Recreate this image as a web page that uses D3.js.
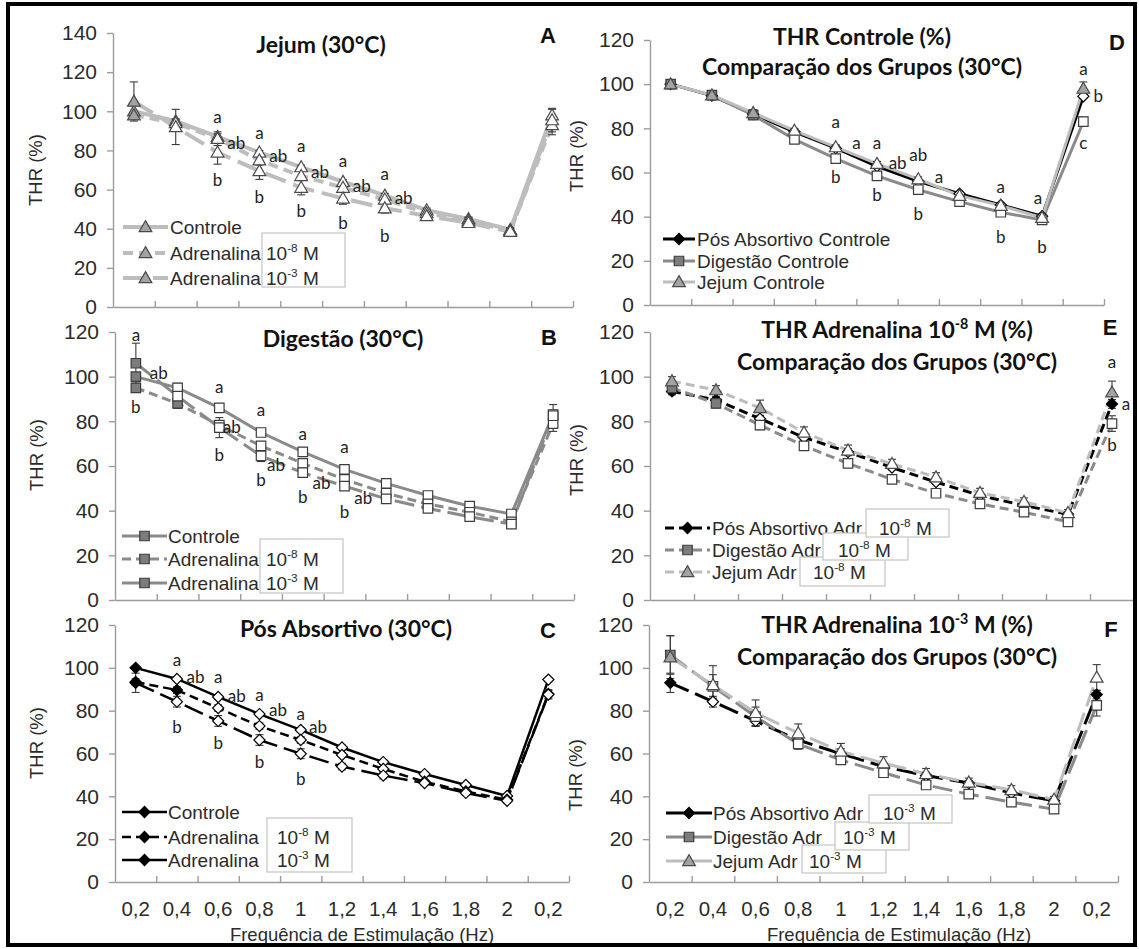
<!DOCTYPE html>
<html>
<head>
<meta charset="utf-8">
<script src="https://cdn.jsdelivr.net/npm/d3@7"></script>
<style>
  body { margin: 0; background: #fff; }
  svg { display: block; }
</style>
</head>
<body>
<svg id="fig" width="1139" height="949"></svg>
<script>
// Stimulation frequencies (Hz); the last category is the return to 0,2 Hz
const categories = ["0,2", "0,4", "0,6", "0,8", "1", "1,2", "1,4", "1,6", "1,8", "2", "0,2"];
const yTicks140 = [0, 20, 40, 60, 80, 100, 120, 140];
const yTicks120 = [0, 20, 40, 60, 80, 100, 120];

// THR (%) means, fasting group
const jejumControle = [100, 95, 87, 79, 71.5, 64, 57, 49.5, 45, 39.5, 98];
const jejumAdr8     = [98, 94, 86, 75, 67, 61, 55, 48, 44, 39, 93];
const jejumAdr3     = [105, 92, 79, 69.5, 61, 55.5, 50.5, 46.5, 43, 38.5, 95.5];
// THR (%) means, digestion group
const digestaoControle = [100, 95, 86, 75, 66.3, 58.5, 52.2, 46.8, 42, 38.5, 83];
const digestaoAdr8     = [95, 88, 78.3, 69, 61.2, 54, 47.8, 43, 39.3, 35, 79];
const digestaoAdr3     = [106, 91.3, 77.2, 64.5, 57, 51, 45.3, 41, 37.3, 34, 82.5];
// THR (%) means, post-absorptive group
const posControle = [100, 94.8, 86.4, 78.4, 71, 62.8, 56, 50.4, 45.3, 40.2, 94.5];
const posAdr8     = [93.4, 89.6, 81.2, 72.8, 66.3, 59.3, 52.8, 46.8, 42.3, 38.4, 87.8];
const posAdr3     = [93, 84.2, 75.2, 66.3, 59.9, 53.9, 49.7, 46.2, 41.6, 37.9, 87.5];

// Standard errors
const jejumControleErr    = [0, 1, 1.5, 1, 1, 1, 1, 1, 1, 1, 3];
const jejumAdr8Err        = [2, 2, 3.5, 2.5, 2.4, 2, 2, 2, 1.7, 1.5, 5];
const jejumAdr3Err        = [10, 9, 6, 4.3, 3.7, 3, 2.5, 2, 2, 1.5, 6];
const digestaoControleErr = [1, 2, 1.5, 1.5, 1.5, 1, 1, 1, 1, 1, 2];
const digestaoAdr8Err     = [2, 2, 2, 1.5, 1.5, 1, 1, 1, 1, 1, 3.5];
const digestaoAdr3Err     = [9, 5.5, 4.5, 2.5, 2, 1.5, 1.5, 1, 1, 1, 5];
const posControleErr      = [0.5, 1, 1, 1, 1, 1, 1, 1, 1, 1, 1];
const posAdr8Err          = [1.5, 1.5, 1.5, 1.5, 1.5, 1, 1, 1, 1, 1, 2];
const posAdr3Err          = [4.5, 2.5, 2.5, 2.5, 2.3, 1.5, 1.5, 1, 1, 1, 2];

// Significance letters: [category position, THR value, letter]
const notesA = [[2, 97, "a"], [2.45, 84, "ab"], [2, 65, "b"], [3, 89, "a"], [3.45, 77, "ab"], [3, 56, "b"],
                [4, 82, "a"], [4.45, 69, "ab"], [4, 49, "b"], [5, 74.6, "a"], [5.45, 62, "ab"], [5, 43, "b"],
                [6, 68, "a"], [6.45, 55.7, "ab"], [6, 36, "b"]];
const notesB = [[0, 118.7, "a"], [0.55, 101.6, "ab"], [0, 86.4, "b"], [2, 95.4, "a"], [2.3, 77.5, "ab"], [2, 65, "b"],
                [3, 85, "a"], [3.36, 60.4, "ab"], [3, 53.7, "b"], [4, 74.4, "a"], [4.45, 52.4, "ab"], [4, 46, "b"],
                [5, 68.5, "a"], [5.45, 45.7, "ab"], [5, 39.4, "b"]];
const notesC = [[1, 103.6, "a"], [1.45, 95.7, "ab"], [1, 72.4, "b"], [2, 95.7, "a"], [2.45, 86.8, "ab"], [2, 64.9, "b"],
                [3, 87.3, "a"], [3.45, 80.3, "ab"], [3, 56, "b"], [4, 78.4, "a"], [4.42, 72.4, "ab"], [4, 48, "b"]];
const notesD = [[4, 82.9, "a"], [4.5, 73.4, "a"], [4, 58, "b"], [5, 73.4, "a"], [5.5, 64.3, "ab"], [5, 49.8, "b"],
                [6, 67.9, "ab"], [6.5, 58, "a"], [6, 41.2, "b"], [8, 53.4, "a"], [8, 30.8, "b"],
                [8.9, 48.5, "a"], [9, 26.3, "b"], [10, 106.9, "a"], [10.36, 94.7, "b"], [10, 73.4, "c"]];
const notesE = [[10, 106.6, "a"], [10.32, 87.8, "a"], [10, 69.4, "b"]];
const notesF = [];

const conc8 = [{ t: "10" }, { t: "-8", sup: true }, { t: " M" }];
const conc3 = [{ t: "10" }, { t: "-3", sup: true }, { t: " M" }];

const FONT = "'Liberation Sans', Arial, sans-serif";
const TFONT = "Lato, 'Open Sans', sans-serif";

const groupStyle = {
  jejum:    { color: "#bdbdbd", symbol: "triangle", fill: "#a3a3a3", stroke: "#4a4a4a" },
  digestao: { color: "#8a8a8a", symbol: "square",   fill: "#7c7c7c", stroke: "#3c3c3c" },
  pos:      { color: "#000000", symbol: "diamond",  fill: "#000000", stroke: "#000000" }
};

const panels = [
  {
    letter: "A", x0: 113, x1: 573, y0: 307, y1: 33, yMax: 140, ticks: yTicks140,
    title: [[{ t: "Jejum (30°C)" }]], titleX: 321, titleY: [53], letterX: 548, letterY: 43,
    yTitle: [36, 170], lw: 4, dash: { adr8: "10,6", adr3: "22,8" },
    series: [
      { v: jejumControle, e: jejumControleErr, g: "jejum", d: "ctrl", filled: [0, 1, 2] },
      { v: jejumAdr8, e: jejumAdr8Err, g: "jejum", d: "adr8", filled: [0] },
      { v: jejumAdr3, e: jejumAdr3Err, g: "jejum", d: "adr3", filled: [0] }
    ],
    legend: { labels: ["Controle", "Adrenalina", "Adrenalina"], rows: [227, 253, 278], lx0: 123, lx1: 168, tx: 170,
              boxes: [{ x: 262, y: 233, w: 83, h: 54, tx: 266, rows: [1, 2] }] },
    notes: notesA
  },
  {
    letter: "B", x0: 115, x1: 574, y0: 600, y1: 332, yMax: 120, ticks: yTicks120,
    title: [[{ t: "Digestão (30°C)" }]], titleX: 343, titleY: [347], letterX: 549, letterY: 345,
    yTitle: [37, 455], lw: 3, dash: { adr8: "9,5", adr3: "20,7" },
    series: [
      { v: digestaoControle, e: digestaoControleErr, g: "digestao", d: "ctrl", filled: [0] },
      { v: digestaoAdr8, e: digestaoAdr8Err, g: "digestao", d: "adr8", filled: [0, 1] },
      { v: digestaoAdr3, e: digestaoAdr3Err, g: "digestao", d: "adr3", filled: [0] }
    ],
    legend: { labels: ["Controle", "Adrenalina", "Adrenalina"], rows: [536, 559, 583], lx0: 122, lx1: 167, tx: 168,
              boxes: [{ x: 260, y: 539, w: 83, h: 54, tx: 266, rows: [1, 2] }] },
    notes: notesB
  },
  {
    letter: "C", x0: 115, x1: 569, y0: 882, y1: 625, yMax: 120, ticks: yTicks120,
    title: [[{ t: "Pós Absortivo (30°C)" }]], titleX: 346, titleY: [637], letterX: 548, letterY: 638,
    yTitle: [37, 743], lw: 2.5, dash: { adr8: "9,5", adr3: "20,7" }, xLabels: true, xTitle: [362, 941],
    series: [
      { v: posControle, e: posControleErr, g: "pos", d: "ctrl", filled: [0] },
      { v: posAdr8, e: posAdr8Err, g: "pos", d: "adr8", filled: [0, 1] },
      { v: posAdr3, e: posAdr3Err, g: "pos", d: "adr3", filled: [0] }
    ],
    legend: { labels: ["Controle", "Adrenalina", "Adrenalina"], rows: [812, 837, 860], lx0: 122, lx1: 167, tx: 168,
              boxes: [{ x: 267, y: 818, w: 85, h: 54, tx: 277, rows: [1, 2] }] },
    notes: notesC
  },
  {
    letter: "D", x0: 650, x1: 1104, y0: 305, y1: 40, yMax: 120, ticks: yTicks120,
    title: [[{ t: "THR Controle (%)" }], [{ t: "Comparação dos Grupos (30°C)" }]], titleX: 862, titleY: [45, 75],
    letterX: 1117, letterY: 50, yTitle: [577, 156], lw: 3, dash: {},
    series: [
      { v: posControle, e: posControleErr, g: "pos", d: "ctrl", filled: [0, 1, 2] },
      { v: digestaoControle, e: digestaoControleErr, g: "digestao", d: "ctrl", filled: [0, 1, 2] },
      { v: jejumControle, e: jejumControleErr, g: "jejum", d: "ctrl", filled: [0, 1, 2, 10] }
    ],
    legend: { labels: ["Pós Absortivo Controle", "Digestão Controle", "Jejum Controle"], rows: [239, 261, 282],
              lx0: 663, lx1: 695, tx: 697, boxes: [] },
    notes: notesD
  },
  {
    letter: "E", x0: 650, x1: 1134, y0: 600, y1: 332, yMax: 120, ticks: yTicks120,
    title: [[{ t: "THR Adrenalina 10" }, { t: "-8", sup: true }, { t: " M (%)" }], [{ t: "Comparação dos Grupos (30°C)" }]],
    titleX: 897, titleY: [338, 370], letterX: 1110, letterY: 335, yTitle: [577, 460], lw: 3,
    dash: { adr8: "9,5", adr3: "20,7" },
    series: [
      { v: posAdr8, e: posAdr8Err, g: "pos", d: "adr8", filled: [0, 1, 10] },
      { v: digestaoAdr8, e: digestaoAdr8Err, g: "digestao", d: "adr8", filled: [0, 1] },
      { v: jejumAdr8, e: jejumAdr8Err, g: "jejum", d: "adr8", filled: [0, 1, 2, 10] }
    ],
    legend: { labels: ["Pós Absortivo Adr", "Digestão Adr", "Jejum Adr"], rows: [528, 550, 572],
              lx0: 665, lx1: 710, tx: 712,
              boxes: [{ x: 800, y: 557, w: 85, h: 29, tx: 813, rows: [2] },
                      { x: 823, y: 533, w: 85, h: 27, tx: 838, rows: [1] },
                      { x: 866, y: 509, w: 83, h: 28, tx: 879, rows: [0] }] },
    notes: notesE
  },
  {
    letter: "F", x0: 649, x1: 1118, y0: 882, y1: 625, yMax: 120, ticks: yTicks120,
    title: [[{ t: "THR Adrenalina 10" }, { t: "-3", sup: true }, { t: " M (%)" }], [{ t: "Comparação dos Grupos (30°C)" }]],
    titleX: 897, titleY: [633, 665], letterX: 1111, letterY: 637, yTitle: [576, 775], lw: 3,
    dash: { adr8: "9,5", adr3: "20,7" }, xLabels: true, xTitle: [899, 941],
    series: [
      { v: posAdr3, e: posAdr3Err, g: "pos", d: "adr3", filled: [0, 10] },
      { v: digestaoAdr3, e: digestaoAdr3Err, g: "digestao", d: "adr3", filled: [0] },
      { v: jejumAdr3, e: jejumAdr3Err, g: "jejum", d: "adr3", filled: [0] }
    ],
    legend: { labels: ["Pós Absortivo Adr", "Digestão Adr", "Jejum Adr"], rows: [813, 837, 861],
              lx0: 666, lx1: 712, tx: 713,
              boxes: [{ x: 802, y: 845, w: 84, h: 28, tx: 809, rows: [2] },
                      { x: 835, y: 822, w: 74, h: 28, tx: 843, rows: [1] },
                      { x: 869, y: 795, w: 83, h: 28, tx: 883, rows: [0] }] },
    notes: notesF
  }
];

const svg = d3.select("#fig");
svg.append("rect").attr("width", 1139).attr("height", 949).attr("fill", "#fff");

// text with optional superscript segments
function rich(textSel, parts, size) {
  parts.forEach((p, i) => {
    const ts = textSel.append("tspan").text(p.t);
    if (p.sup) ts.attr("font-size", size * 0.62).attr("dy", -size * 0.4);
    else if (i > 0 && parts[i - 1].sup) ts.attr("dy", size * 0.4);
  });
}

function markerPath(symbol) {
  if (symbol === "triangle") return d3.symbol(d3.symbolTriangle, 70)();
  if (symbol === "square") return d3.symbol(d3.symbolSquare, 90)();
  return d3.symbol(d3.symbolSquare, 62)();
}

function drawMarker(g, style, x, y, filled) {
  const m = g.append("path")
    .attr("d", markerPath(style.symbol))
    .attr("fill", filled ? style.fill : "#fff")
    .attr("stroke", style.stroke)
    .attr("stroke-width", 1.2);
  const rot = style.symbol === "diamond" ? " rotate(45)" : "";
  const dy = style.symbol === "triangle" ? 1 : 0;
  m.attr("transform", `translate(${x},${y + dy})${rot}`);
}

function styleAxis(ax) {
  ax.selectAll(".domain, .tick line").attr("stroke", "#9c9c9c").attr("stroke-width", 1.4);
  ax.selectAll("text").attr("fill", "#2b2b2b").attr("font-family", FONT);
}

panels.forEach(p => {
  const g = svg.append("g");
  const n = categories.length;
  const band = d3.scaleBand().domain(d3.range(n)).range([p.x0, p.x1]);
  const bw = band.bandwidth();
  const cx = i => p.x0 + (i + 0.5) * bw;
  const y = d3.scaleLinear().domain([0, p.yMax]).range([p.y0, p.y1]);
  const xb = d3.scaleLinear().domain([0, n]).range([p.x0, p.x1]);

  // axes
  const ya = g.append("g").attr("transform", `translate(${p.x0},0)`)
    .call(d3.axisLeft(y).tickValues(p.ticks).tickSize(6).tickPadding(10).tickSizeOuter(0));
  styleAxis(ya);
  ya.selectAll("text").attr("font-size", 21);

  const xa = g.append("g").attr("transform", `translate(0,${p.y0})`)
    .call(d3.axisBottom(xb).tickValues(d3.range(1, n + 1)).tickSize(-6).tickSizeOuter(0).tickFormat(""));
  styleAxis(xa);

  if (p.xLabels) {
    const xl = g.append("g").attr("transform", `translate(0,${p.y0})`)
      .call(d3.axisBottom(band).tickFormat(i => categories[i]).tickSize(0).tickPadding(19));
    xl.select(".domain").remove();
    styleAxis(xl);
    xl.selectAll("text").attr("font-size", 20.5);
    g.append("text").attr("x", p.xTitle[0]).attr("y", p.xTitle[1])
      .attr("text-anchor", "middle").attr("font-family", FONT).attr("font-size", 18.5).attr("fill", "#2b2b2b")
      .text("Frequência de Estimulação (Hz)");
  }

  // y title
  g.append("text")
    .attr("transform", `translate(${p.yTitle[0]},${p.yTitle[1]}) rotate(-90)`)
    .attr("text-anchor", "middle").attr("dy", "0.35em")
    .attr("font-family", FONT).attr("font-size", 18.5).attr("fill", "#2b2b2b")
    .text("THR (%)");

  // title lines
  p.title.forEach((parts, k) => {
    const t = g.append("text").attr("x", p.titleX).attr("y", p.titleY[k])
      .attr("text-anchor", "middle").attr("font-family", TFONT).attr("font-weight", 700)
      .attr("font-size", 23).attr("fill", "#111");
    rich(t, parts, 23);
  });

  // panel letter
  g.append("text").attr("x", p.letterX).attr("y", p.letterY)
    .attr("text-anchor", "middle").attr("font-family", FONT).attr("font-weight", 700)
    .attr("font-size", 22).attr("fill", "#111").text(p.letter);

  const line = d3.line().x((d, i) => cx(i)).y(d => y(d));
  const lineDash = s => (s.d === "ctrl" ? null : p.dash[s.d]);

  // series lines
  p.series.forEach(s => {
    const st = groupStyle[s.g];
    g.append("path").datum(s.v).attr("d", line)
      .attr("fill", "none").attr("stroke", st.color).attr("stroke-width", p.lw)
      .attr("stroke-dasharray", lineDash(s));
  });

  // error bars
  p.series.forEach(s => {
    s.v.forEach((v, i) => {
      const e = s.e[i];
      if (!e) return;
      const eg = g.append("g").attr("stroke", "#3a3a3a").attr("stroke-width", 1.1);
      eg.append("line").attr("x1", cx(i)).attr("x2", cx(i)).attr("y1", y(v - e)).attr("y2", y(v + e));
      [v - e, v + e].forEach(w => eg.append("line").attr("x1", cx(i) - 4).attr("x2", cx(i) + 4).attr("y1", y(w)).attr("y2", y(w)));
    });
  });

  // markers
  p.series.forEach(s => {
    const st = groupStyle[s.g];
    s.v.forEach((v, i) => drawMarker(g, st, cx(i), y(v), s.filled.includes(i)));
  });

  // significance letters
  p.notes.forEach(([pos, val, lab]) => {
    g.append("text").attr("x", cx(pos)).attr("y", y(val)).attr("dy", "0.35em")
      .attr("text-anchor", "middle").attr("font-family", TFONT).attr("font-size", 17)
      .attr("fill", "#222").text(lab);
  });

  // legend
  const L = p.legend;
  p.series.forEach((s, k) => {
    const st = groupStyle[s.g];
    const ry = L.rows[k];
    g.append("line").attr("x1", L.lx0).attr("x2", L.lx1).attr("y1", ry).attr("y2", ry)
      .attr("stroke", st.color).attr("stroke-width", p.lw).attr("stroke-dasharray", lineDash(s));
    drawMarker(g, st, (L.lx0 + L.lx1) / 2, ry, true);
    g.append("text").attr("x", L.tx).attr("y", ry).attr("dy", "0.35em")
      .attr("font-family", FONT).attr("font-size", 19).attr("fill", "#2b2b2b").text(L.labels[k]);
  });
  L.boxes.forEach(b => {
    g.append("rect").attr("x", b.x).attr("y", b.y).attr("width", b.w).attr("height", b.h)
      .attr("fill", "#fff").attr("stroke", "#c4c4c4").attr("stroke-width", 1.2);
    b.rows.forEach(r => {
      const s = p.series[r];
      const t = g.append("text").attr("x", b.tx).attr("y", L.rows[r]).attr("dy", "0.35em")
        .attr("font-family", FONT).attr("font-size", 19).attr("fill", "#2b2b2b");
      rich(t, s.d === "adr8" ? conc8 : conc3, 19);
    });
  });
});

// outer frame
svg.append("rect").attr("x", 8).attr("y", 4).attr("width", 1127).attr("height", 941)
  .attr("fill", "none").attr("stroke", "#000").attr("stroke-width", 4);
</script>
</body>
</html>
